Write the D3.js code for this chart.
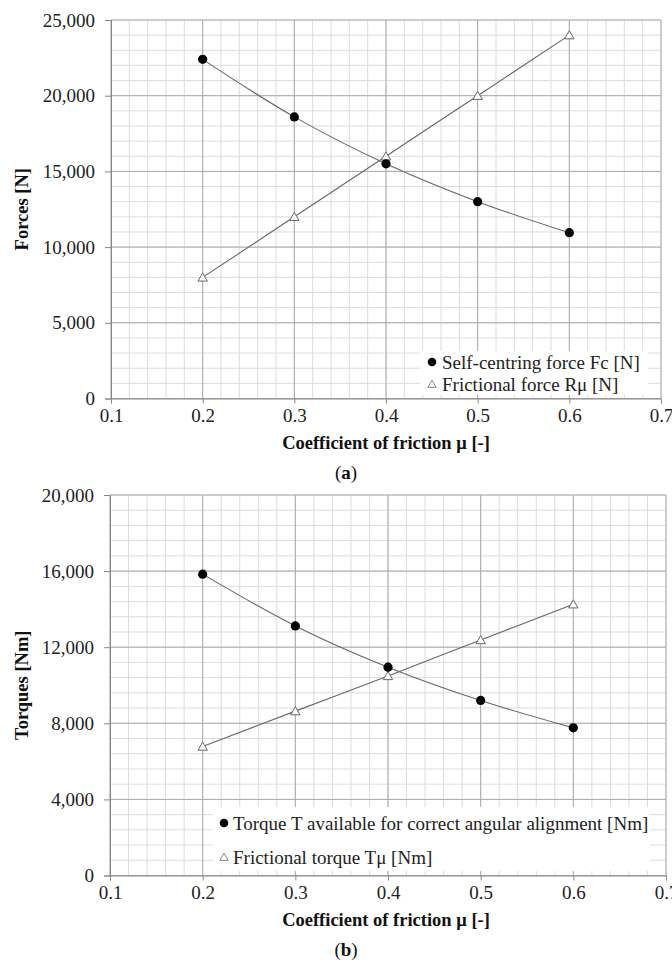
<!DOCTYPE html>
<html lang="en">
  <head>
    <meta charset="utf-8" />
    <script src="https://d3js.org/d3.v7.min.js"></script>
    <style>
      body { margin: 0; background: #fff; }
    </style>
  </head>
  <body>
    <svg id="chart" width="672" height="960" font-family="Liberation Serif"></svg>
    <script>
      // shared x values (coefficient of friction)
      const mu = [0.2, 0.3, 0.4, 0.5, 0.6];
      const xTicks = [0.1, 0.2, 0.3, 0.4, 0.5, 0.6, 0.7];

      // (a) forces [N]
      const selfCentringForce = [22400, 18600, 15500, 13000, 10950];
      const frictionalForce = [8000, 12000, 16000, 20000, 24000];
      const forceTicks = [0, 5000, 10000, 15000, 20000, 25000];

      // (b) torques [Nm]
      const torqueAvailable = [15840, 13120, 10950, 9200, 7760];
      const frictionalTorque = [6780, 8640, 10490, 12380, 14260];
      const torqueTicks = [0, 4000, 8000, 12000, 16000, 20000];

      const svg = d3.select("svg#chart");
      const fmt = d3.format(",");
      const serif = "Liberation Serif";
      const fs = 19;

      function drawChart(opt) {
        const x = d3.scaleLinear().domain([0.1, 0.7]).range([opt.left, opt.right]);
        const y = d3.scaleLinear().domain([0, opt.yMax]).range([opt.bottom, opt.top]);
        const g = svg.append("g");

        // minor grid
        const xMinor = d3.range(0.1, 0.7001, 0.02);
        const yMinor = d3.range(0, opt.yMax + 1, opt.yMinor);
        g.append("g").selectAll("line").data(xMinor).join("line")
          .attr("x1", d => x(d)).attr("x2", d => x(d))
          .attr("y1", opt.top).attr("y2", opt.bottom)
          .attr("stroke", "#dcdcdc").attr("stroke-width", 1);
        g.append("g").selectAll("line").data(yMinor).join("line")
          .attr("x1", opt.left).attr("x2", opt.right)
          .attr("y1", d => y(d)).attr("y2", d => y(d))
          .attr("stroke", "#dcdcdc").attr("stroke-width", 1);

        // major grid
        g.append("g").selectAll("line").data(xTicks).join("line")
          .attr("x1", d => x(d)).attr("x2", d => x(d))
          .attr("y1", opt.top).attr("y2", opt.bottom)
          .attr("stroke", "#aaa").attr("stroke-width", 1);
        g.append("g").selectAll("line").data(opt.yTicks).join("line")
          .attr("x1", opt.left).attr("x2", opt.right)
          .attr("y1", d => y(d)).attr("y2", d => y(d))
          .attr("stroke", "#aaa").attr("stroke-width", 1);

        // axes
        const leftAxis = g.append("g")
          .attr("transform", "translate(" + opt.left + ",0)")
          .call(d3.axisLeft(y).tickValues(opt.yTicks).tickFormat(fmt).tickSize(6).tickPadding(10));
        const bottomAxis = g.append("g")
          .attr("transform", "translate(0," + opt.bottom + ")")
          .call(d3.axisBottom(x).tickValues(xTicks).tickFormat(d3.format(".1f")).tickSize(5).tickPadding(9));
        [leftAxis, bottomAxis].forEach(a => {
          a.attr("font-family", serif).attr("font-size", fs);
          a.select(".domain").attr("stroke", "#888");
          a.selectAll(".tick line").attr("stroke", "#888");
          a.selectAll(".tick text").attr("fill", "#222");
        });
        bottomAxis.selectAll(".tick text").attr("dy", "0.71em").attr("y", 10);

        // series
        const line = d3.line()
          .x((d, i) => x(mu[i]))
          .y(d => y(d))
          .curve(d3.curveCatmullRom.alpha(0.5));
        g.append("path").datum(opt.s1).attr("d", line)
          .attr("fill", "none").attr("stroke", "#666").attr("stroke-width", 1.1);
        g.append("path").datum(opt.s2).attr("d", line)
          .attr("fill", "none").attr("stroke", "#666").attr("stroke-width", 1.1);

        const tri = d3.symbol().type(d3.symbolTriangle).size(38);
        g.append("g").selectAll("path").data(opt.s2).join("path")
          .attr("d", tri)
          .attr("transform", (d, i) => "translate(" + x(mu[i]) + "," + (y(d) + 1) + ")")
          .attr("fill", "#fff").attr("stroke", "#666").attr("stroke-width", 1);
        g.append("g").selectAll("circle").data(opt.s1).join("circle")
          .attr("cx", (d, i) => x(mu[i])).attr("cy", d => y(d))
          .attr("r", 4.6).attr("fill", "#000");

        // legend
        const lg = g.append("g").attr("font-family", serif).attr("font-size", fs).attr("fill", "#222");
        lg.append("rect")
          .attr("x", opt.legend.x).attr("y", opt.legend.y)
          .attr("width", opt.legend.w).attr("height", opt.legend.h)
          .attr("fill", "#fff");
        lg.append("circle")
          .attr("cx", opt.legend.x + opt.legend.mx).attr("cy", opt.legend.row1)
          .attr("r", 4.3).attr("fill", "#000");
        lg.append("text")
          .attr("x", opt.legend.x + opt.legend.tx).attr("y", opt.legend.row1)
          .attr("dy", "0.35em").text(opt.name1);
        lg.append("path")
          .attr("d", d3.symbol().type(d3.symbolTriangle).size(30))
          .attr("transform", "translate(" + (opt.legend.x + opt.legend.mx) + "," + (opt.legend.row2 + 1) + ")")
          .attr("fill", "#fff").attr("stroke", "#777").attr("stroke-width", 0.9);
        lg.append("text")
          .attr("x", opt.legend.x + opt.legend.tx).attr("y", opt.legend.row2)
          .attr("dy", "0.35em").text(opt.name2);

        // labels
        g.append("text").attr("font-family", serif).attr("font-size", 18.5).attr("font-weight", "bold")
          .attr("fill", "#111")
          .attr("transform", "translate(28," + ((opt.top + opt.bottom) / 2) + ") rotate(-90)")
          .attr("text-anchor", "middle").text(opt.yLabel);
        g.append("text").attr("font-family", serif).attr("font-size", 18.5).attr("font-weight", "bold")
          .attr("fill", "#111")
          .attr("x", 386).attr("y", opt.bottom + 50)
          .attr("text-anchor", "middle").text("Coefficient of friction \u03bc [-]");
        const cap = g.append("text").attr("font-family", serif).attr("font-size", fs)
          .attr("x", 346).attr("y", opt.bottom + 80)
          .attr("text-anchor", "middle").attr("fill", "#111");
        cap.append("tspan").text("(");
        cap.append("tspan").attr("font-weight", "bold").text(opt.caption);
        cap.append("tspan").text(")");
      }

      drawChart({
        left: 111, right: 661, top: 20, bottom: 398.5,
        yMax: 25000, yMinor: 1000, yTicks: forceTicks,
        s1: selfCentringForce, s2: frictionalForce,
        name1: "Self-centring force Fc [N]", name2: "Frictional force R\u03bc [N]",
        yLabel: "Forces [N]", caption: "a",
        legend: { x: 420, y: 351, w: 228, h: 44, mx: 12, tx: 22, row1: 362, row2: 384 }
      });

      drawChart({
        left: 110, right: 666, top: 495, bottom: 875.5,
        yMax: 20000, yMinor: 800, yTicks: torqueTicks,
        s1: torqueAvailable, s2: frictionalTorque,
        name1: "Torque T available for correct angular alignment [Nm]",
        name2: "Frictional torque T\u03bc [Nm]",
        yLabel: "Torques [Nm]", caption: "b",
        legend: { x: 213, y: 807, w: 437, h: 64, mx: 11, tx: 20, row1: 823, row2: 857 }
      });
    </script>
  </body>
</html>
